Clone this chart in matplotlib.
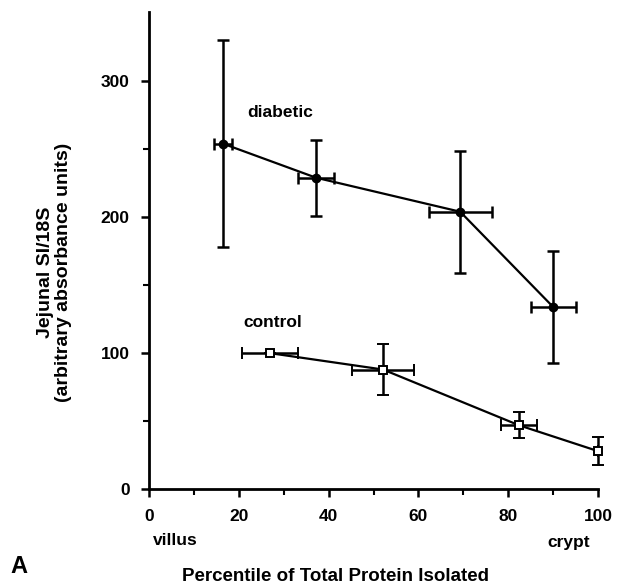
import numpy as np
import matplotlib.pyplot as plt

# diabetic
x_diab = [16.5, 37.2, 69.3, 90.0]
y_diab = [254, 229, 204, 134]
xerr_diab = [2.0, 4.0, 7.0, 5.0]
yerr_diab = [76, 28, 45, 41]
# control
x_ctrl = [27.0, 52.1, 82.4, 100.0]
y_ctrl = [100, 88, 47, 28]
xerr_ctrl = [6.2, 7.0, 4.0, 0.0]
yerr_ctrl = [0, 19, 9.5, 10.5]

xticks = [0, 20, 40, 60, 80, 100]
yticks = [0, 100, 200, 300]

plt.rcParams['font.family'] = ['Liberation Sans', 'DejaVu Sans']
plt.rcParams['font.weight'] = 'bold'
plt.rcParams['axes.labelweight'] = 'bold'

fig = plt.figure(figsize=(6.21, 5.88), dpi=100)
ax = fig.add_axes([0.24, 0.168, 0.723, 0.812])

ax.errorbar(x_diab, y_diab, xerr=xerr_diab, yerr=yerr_diab, fmt='o-', color='black',
            ms=6, lw=1.6, elinewidth=1.8, capsize=4, capthick=1.8, clip_on=False)
ax.errorbar(x_ctrl, y_ctrl, xerr=xerr_ctrl, yerr=yerr_ctrl, fmt='s-', color='black',
            mfc='white', mew=1.4, ms=6, lw=1.6, elinewidth=1.8, capsize=4, capthick=1.8,
            clip_on=False)

ax.set_xlim(0, 100)
ax.set_ylim(0, 351)
ax.spines['top'].set_visible(False)
ax.spines['right'].set_visible(False)
ax.spines['left'].set_linewidth(2)
ax.spines['bottom'].set_linewidth(2)

ax.set_xticks(xticks)
ax.set_xticks(np.arange(10, 100, 20), minor=True)
ax.set_yticks(yticks)
ax.set_yticks([50, 150, 250], minor=True)
ax.tick_params(axis='both', which='major', length=6, width=1.8, labelsize=12.5, pad=8)
ax.tick_params(axis='both', which='minor', length=4, width=1.5)

ax.text(21.8, 274, 'diabetic', fontsize=12.5)
ax.text(21, 119, 'control', fontsize=12.5)

fig.text(0.54, 0.019, 'Percentile of Total Protein Isolated', fontsize=13.5,
         ha='center', va='center')
fig.text(0.088, 0.537, 'Jejunal SI/18S\n(arbitrary absorbance units)', fontsize=14,
         rotation=90, ha='center', va='center', linespacing=1.05, multialignment='center')

fig.text(0.246, 0.08, 'villus', fontsize=12.5, ha='left', va='center')
fig.text(0.95, 0.078, 'crypt', fontsize=12.5, ha='right', va='center')
fig.text(0.016, 0.036, 'A', fontsize=17, ha='left', va='center')

fig.savefig('out.png', dpi=100)
